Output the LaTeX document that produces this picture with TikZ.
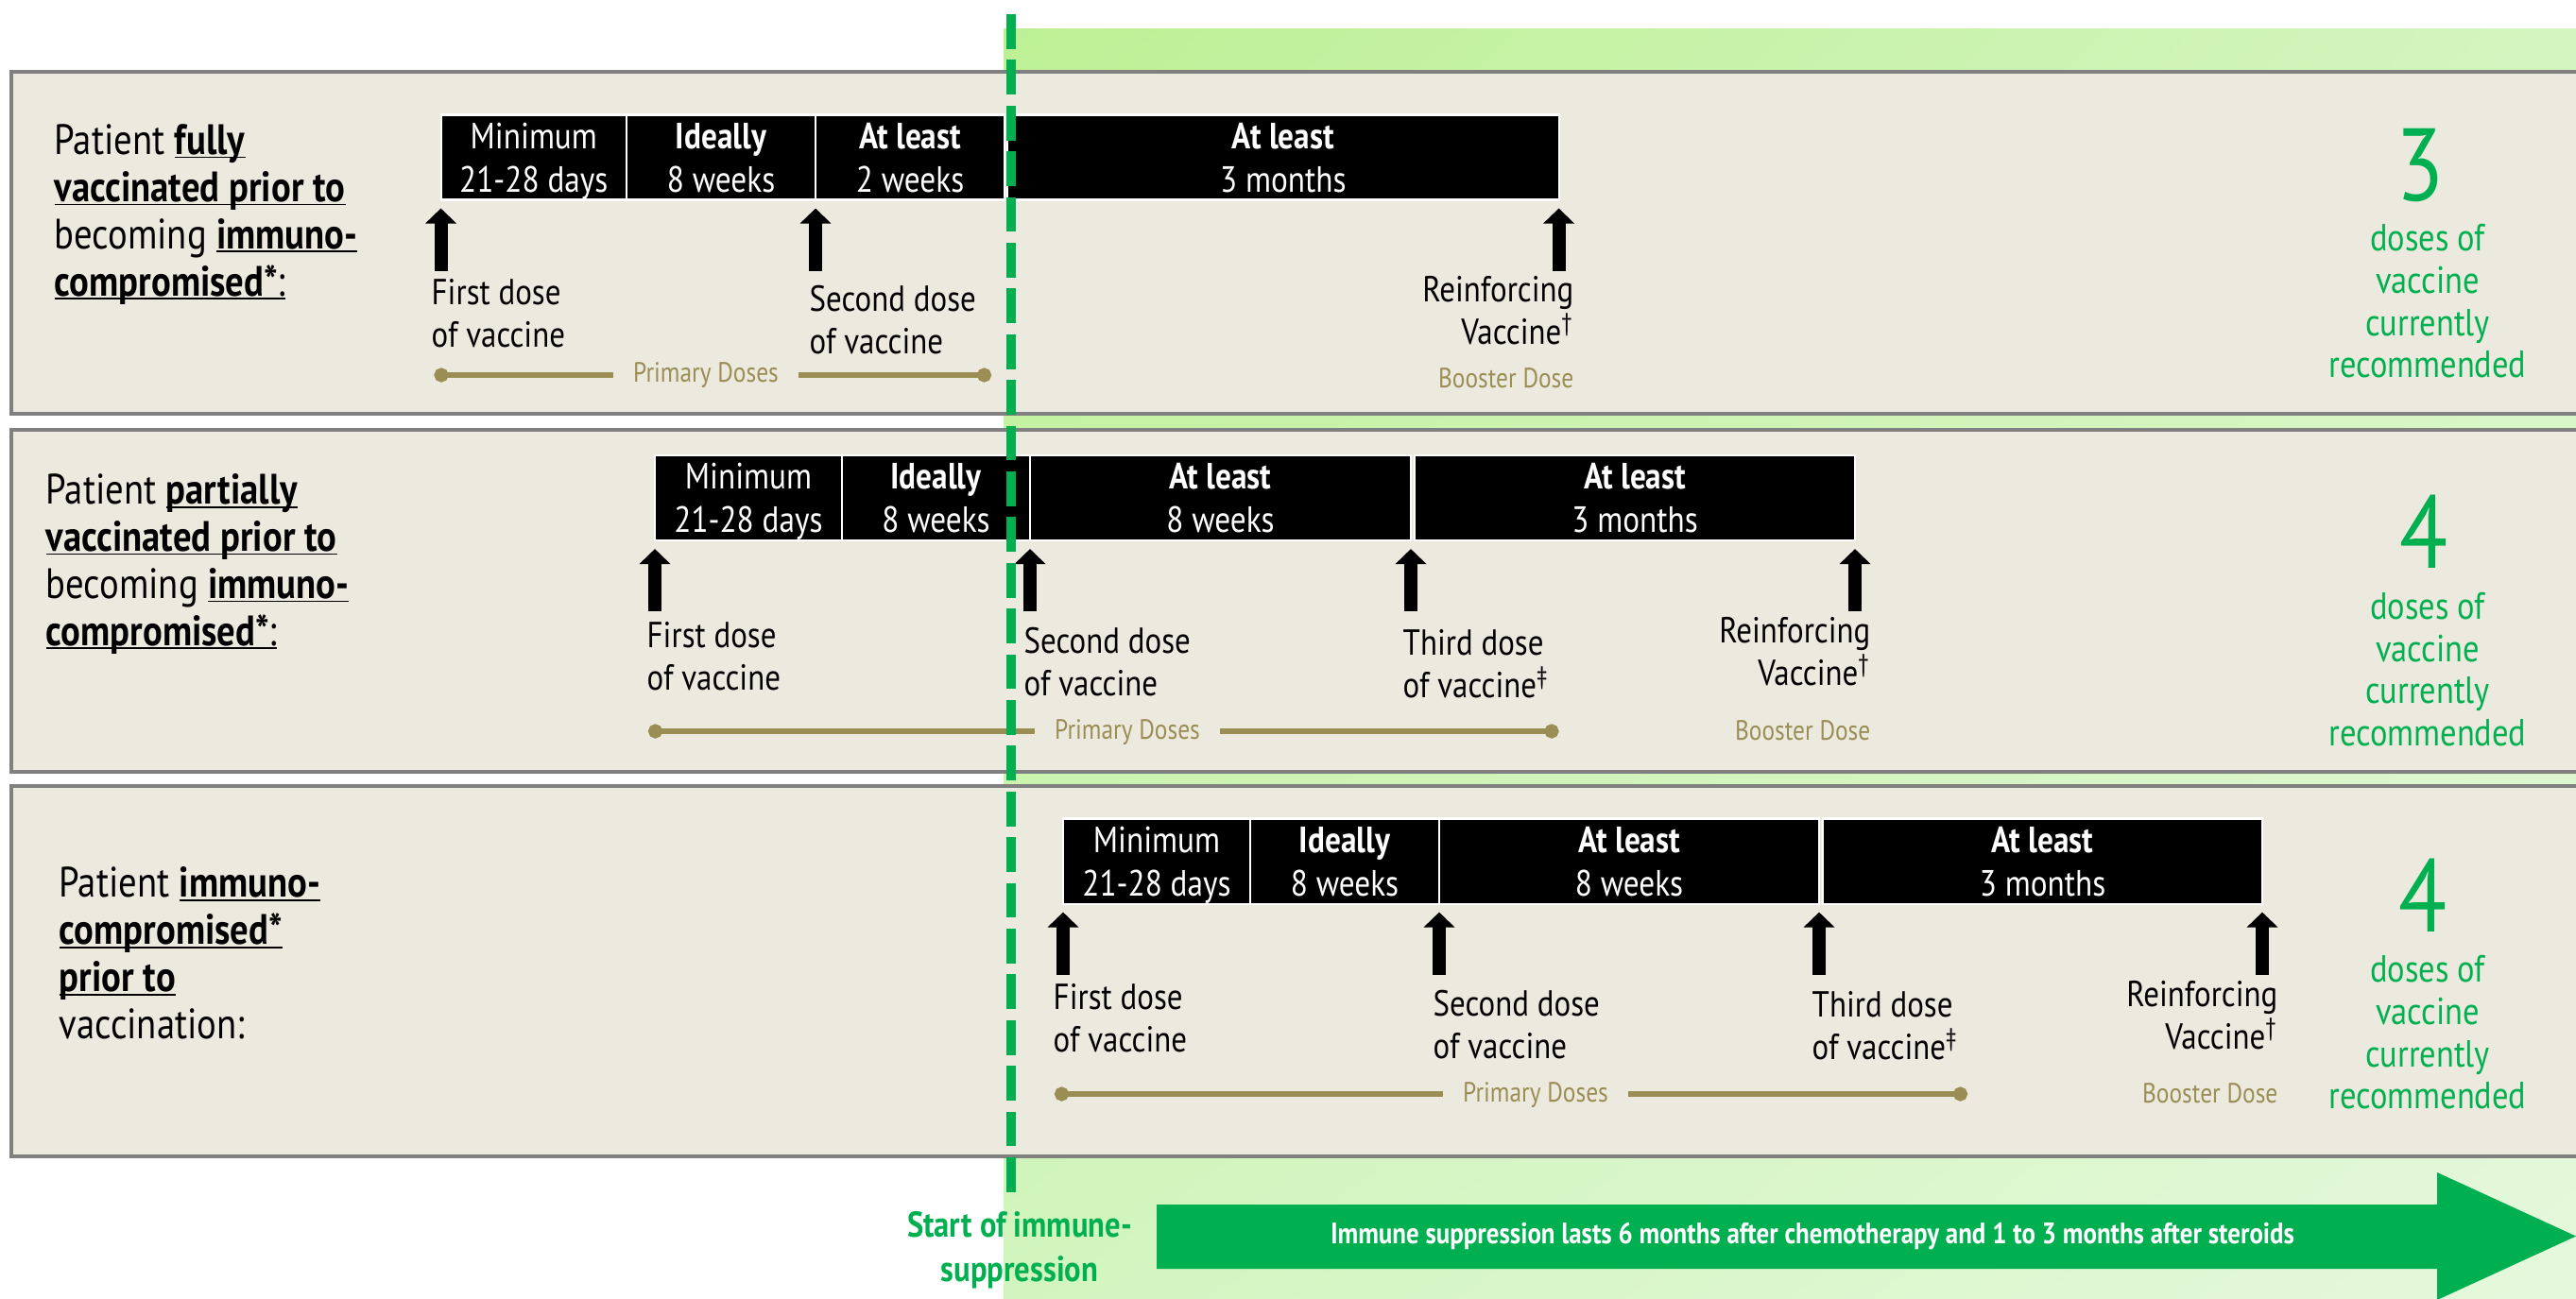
\documentclass[tikz,border=0pt]{standalone}
\usepackage{fontspec}
\setmainfont{PT Sans}[FakeStretch=0.86]
\usetikzlibrary{positioning,arrows.meta,shadings}

\definecolor{rowfill}{HTML}{ECE9DF}
\definecolor{rowgray}{HTML}{808080}
\definecolor{doseolive}{HTML}{9A8E55}
\definecolor{vgreen}{HTML}{00B050}
\definecolor{bgA}{HTML}{BDF095}
\definecolor{bgB}{HTML}{D4F5C0}
\definecolor{bgC}{HTML}{D2F5BF}
\definecolor{bgD}{HTML}{E5F8DC}

% underlined words of the patient groups
\newsavebox\ulbox
\newcommand{\ulword}[1]{\sbox\ulbox{#1}\rlap{\rule[-1.1pt]{\wd\ulbox}{0.5pt}}\usebox\ulbox}
% two lines of an interval box
\newcommand{\gaptext}[2]{\rule{0pt}{10.2pt}#1\\#2\vphantom{g}}

\begin{document}
\begin{tikzpicture}[rowbox/.style={draw=rowgray, line width=1.1pt, fill=rowfill},
	rowlabel/.style={anchor=west, align=left, inner sep=0pt, font=\fontsize{12.8}{14.2}\selectfont},
	gapbox/.style={fill=black, draw=white, line width=0.6pt, text=white, align=center, inner sep=0pt, outer sep=0pt, minimum height=0.86cm, font=\fontsize{11}{13.1}\selectfont},
	doselabel/.style={anchor=west, align=left, inner sep=0pt, font=\fontsize{10.9}{12.8}\selectfont},
	dosearrow/.style={line width=0.14cm, -{Triangle[width=0.32cm,length=0.16cm]}},
	dosetext/.style={text=doseolive, inner sep=0pt, inner xsep=0.2cm, font=\fontsize{8.4}{10}\selectfont},
	doseline/.style={draw=doseolive, line width=0.06cm},
	bignum/.style={text=vgreen, inner sep=0pt, font=\fontsize{31}{31}\selectfont},
	dosecount/.style={text=vgreen, align=center, inner sep=0pt, font=\fontsize{11.4}{12.7}\selectfont},
	startline/.style={draw=vgreen, line width=0.1cm, dash pattern=on 0.367cm off 0.117cm}]
	\useasboundingbox (0,0) rectangle (27.26,-13.74);
	% background of the immune suppression period
	\shade[upper left=bgA, upper right=bgB, lower left=bgC, lower right=bgD] (10.62,-0.30) rectangle (27.26,-13.74);
	\draw[rowbox] (0.12,-0.76) rectangle (27.5,-4.38);
	\draw[rowbox] (0.12,-4.55) rectangle (27.5,-8.17);
	\draw[rowbox] (0.12,-8.32) rectangle (27.5,-12.24);

	% patient groups
	\node[rowlabel] (r1) at (0.57,-2.27) {Patient \ulword{\textbf{fully}}\\\ulword{\textbf{vaccinated prior to}}\\becoming \ulword{\textbf{immuno-}}\\\ulword{\textbf{compromised*}:}};
	\node[rowlabel] (r2) at (0.48,-5.97) {Patient \ulword{\textbf{partially}}\\\ulword{\textbf{vaccinated prior to}}\\becoming \ulword{\textbf{immuno-}}\\\ulword{\textbf{compromised*}:}};
	\node[rowlabel] (r3) at (0.62,-10.09) {Patient \ulword{\textbf{immuno-}}\\\ulword{\textbf{compromised*}}\\\ulword{\textbf{prior to}}\\vaccination:};

	% intervals
	\node[gapbox, minimum width=1.965cm] (b11) at (5.648,-1.665) {\gaptext{Minimum}{21-28 days}};
	\node[gapbox, minimum width=2cm, right=0pt of b11] (b12) {\gaptext{\textbf{Ideally}}{8 weeks}};
	\node[gapbox, minimum width=2cm, right=0pt of b12] (b13) {\gaptext{\textbf{At least}}{2 weeks}};
	\node[gapbox, minimum width=5.835cm, right=0.03cm of b13] (b14) {\gaptext{\textbf{At least}}{3 months}};
	\node[gapbox, minimum width=1.98cm] (b21) at (7.92,-5.27) {\gaptext{Minimum}{21-28 days}};
	\node[gapbox, minimum width=1.99cm, right=0pt of b21] (b22) {\gaptext{\textbf{Ideally}}{8 weeks}};
	\node[gapbox, minimum width=4.03cm, right=0pt of b22] (b23) {\gaptext{\textbf{At least}}{8 weeks}};
	\node[gapbox, minimum width=4.66cm, right=0.04cm of b23] (b24) {\gaptext{\textbf{At least}}{3 months}};
	\node[gapbox, minimum width=1.98cm] (b31) at (12.24,-9.115) {\gaptext{Minimum}{21-28 days}};
	\node[gapbox, minimum width=2cm, right=0pt of b31] (b32) {\gaptext{\textbf{Ideally}}{8 weeks}};
	\node[gapbox, minimum width=4.02cm, right=0pt of b32] (b33) {\gaptext{\textbf{At least}}{8 weeks}};
	\node[gapbox, minimum width=4.65cm, right=0.04cm of b33] (b34) {\gaptext{\textbf{At least}}{3 months}};

	% doses
	\node[doselabel] (l11) at (4.56,-3.32) {First dose\\of vaccine};
	\node[doselabel] (l12) at (8.56,-3.385) {Second dose\\of vaccine};
	\node[doselabel, anchor=east, align=right] (l13) at (16.66,-3.285) {Reinforcing\\Vaccine\textsuperscript{†}};
	\node[doselabel] (l21) at (6.84,-6.95) {First dose\\of vaccine};
	\node[doselabel] (l22) at (10.83,-7.005) {Second dose\\of vaccine};
	\node[doselabel] (l23) at (14.84,-7.025) {Third dose\\of vaccine\textsuperscript{‡}};
	\node[doselabel, anchor=east, align=right] (l24) at (19.80,-6.90) {Reinforcing\\Vaccine\textsuperscript{†}};
	\node[doselabel] (l31) at (11.14,-10.775) {First dose\\of vaccine};
	\node[doselabel] (l32) at (15.16,-10.85) {Second dose\\of vaccine};
	\node[doselabel] (l33) at (19.17,-10.855) {Third dose\\of vaccine\textsuperscript{‡}};
	\node[doselabel, anchor=east, align=right] (l34) at (24.11,-10.745) {Reinforcing\\Vaccine\textsuperscript{†}};
	\foreach \b/\a in {b11/south west, b13/south west, b14/south east, b21/south west, b23/south west, b23/south east, b24/south east, b31/south west, b33/south west, b33/south east, b34/south east}
	\draw[dosearrow] ([yshift=-0.75cm]\b.\a) -- ([yshift=-0.09cm]\b.\a);

	% primary and booster
	\node[dosetext] (p1) at (7.47,-3.97) {Primary Doses};
	\node[dosetext] (p2) at (11.93,-7.75) {Primary Doses};
	\node[dosetext] (p3) at (16.25,-11.59) {Primary Doses};
	\coordinate (p1a) at (4.595,-3.97);
	\coordinate (p1b) at (10.49,-3.97);
	\coordinate (p2a) at (6.86,-7.74);
	\coordinate (p2b) at (16.495,-7.74);
	\coordinate (p3a) at (11.16,-11.58);
	\coordinate (p3b) at (20.82,-11.58);
	\foreach \y in {1,2,3} {
	\draw[doseline, {Circle[length=0.15cm]}-] (p\y a) -- (p\y a -| p\y.west);
	\draw[doseline, -{Circle[length=0.15cm]}] (p\y b -| p\y.east) -- (p\y b);
	}
	\node[dosetext, inner xsep=0pt, anchor=east] (bo1) at (16.66,-4.00) {Booster Dose};
	\node[dosetext, inner xsep=0pt, anchor=east] (bo2) at (19.80,-7.73) {Booster Dose};
	\node[dosetext, inner xsep=0pt, anchor=east] (bo3) at (24.11,-11.57) {Booster Dose};

	% number of doses
	\node[bignum] (n1) at (25.61,-1.75) {3};
	\node[bignum] (n2) at (25.65,-5.63) {4};
	\node[bignum] (n3) at (25.64,-9.48) {4};
	\node[dosecount] (c1) at (25.69,-3.19) {doses of\\vaccine\\currently\\recommended};
	\node[dosecount] (c2) at (25.69,-7.085) {doses of\\vaccine\\currently\\recommended};
	\node[dosecount] (c3) at (25.69,-10.93) {doses of\\vaccine\\currently\\recommended};

	% start of immune suppression
	\coordinate (s0) at (10.70,-0.15);
	\coordinate (s1) at (10.70,-12.70);
	\draw[startline] (s0) -- (s1);
	\fill[vgreen] (12.24,-12.75) -- (25.79,-12.75) -- (25.79,-12.41) -- (27.26,-13.085) -- (25.79,-13.76) -- (25.79,-13.43) -- (12.24,-13.43) -- cycle;
	\node[text=white, font=\bfseries\fontsize{8.9}{10}\selectfont] (supp) at (19.18,-13.09) {Immune suppression lasts 6 months after chemotherapy and 1 to 3 months after steroids};
	\node[text=vgreen, align=center, inner sep=0pt, font=\bfseries\fontsize{10.8}{13.4}\selectfont] (start) at (10.79,-13.235) {Start of immune-\\suppression};
\end{tikzpicture}
\end{document}
